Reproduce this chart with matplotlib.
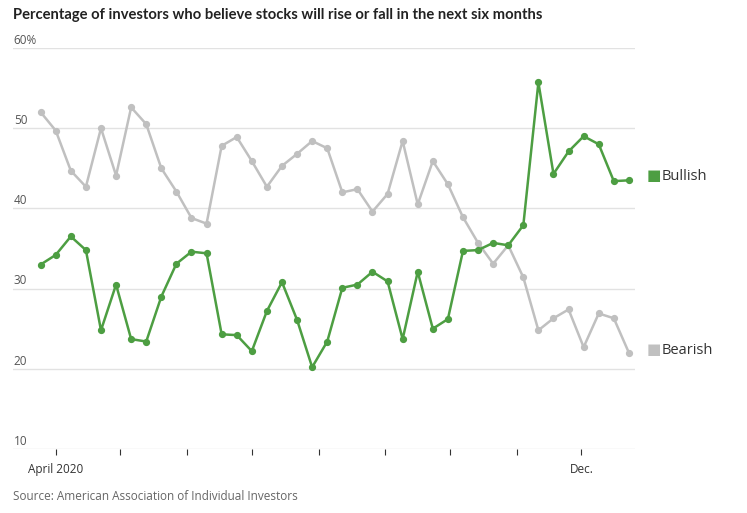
import matplotlib
matplotlib.use("Agg")
import matplotlib.pyplot as plt
import pandas as pd

# weekly AAII sentiment survey, Mar 25 - Dec 23 2020
dates = pd.date_range("2020-03-25", periods=40, freq="7D")

bullish = [33.0, 34.2, 36.5, 34.8, 24.8, 30.5, 23.7, 23.4, 29.0, 33.1,
           34.6, 34.4, 24.3, 24.2, 22.2, 27.2, 30.8, 26.1, 20.2, 23.4,
           30.1, 30.5, 32.1, 30.9, 23.7, 32.1, 25.0, 26.2, 34.7, 34.8,
           35.7, 35.4, 37.9, 55.7, 44.3, 47.1, 49.0, 48.0, 43.4, 43.5]

bearish = [52.0, 49.7, 44.7, 42.7, 50.0, 44.1, 52.6, 50.5, 45.0, 42.1,
           38.8, 38.1, 47.8, 48.9, 45.9, 42.7, 45.3, 46.8, 48.4, 47.5,
           42.0, 42.4, 39.6, 41.8, 48.4, 40.5, 45.9, 43.0, 38.9, 35.7,
           33.1, 35.4, 31.4, 24.8, 26.3, 27.4, 22.7, 26.9, 26.3, 22.0]

yticks = [10, 20, 30, 40, 50, 60]
ytick_labels = ["10", "20", "30", "40", "50", "60%"]

green = "#4d9e42"
grey = "#c0c0c0"
textcol = "#555555"

plt.rcParams["font.family"] = ["Open Sans", "DejaVu Sans"]

fig = plt.figure(figsize=(7.47, 5.13), dpi=100)
ax = fig.add_axes([13 / 747, 64 / 513, 622 / 747, 401 / 513])

ax.plot(dates, bearish, color=grey, lw=1.8, marker="o", ms=4.2, zorder=3)
ax.plot(dates, bullish, color=green, lw=1.8, marker="o", ms=4.2, zorder=4)

ax.set_ylim(10, 60)
ax.set_xlim(pd.Timestamp("2020-03-12 04:00"), pd.Timestamp("2020-12-25 20:00"))

# horizontal grid only, labels sit on top of the lines at the left
ax.set_yticks(yticks)
ax.set_yticklabels([])
ax.tick_params(axis="y", length=0)
for v, lab in zip(yticks, ytick_labels):
    ax.text(pd.Timestamp("2020-03-12 12:00"), v + 0.15, lab, fontsize=8.5,
            color=textcol, va="bottom", ha="left")
ax.grid(axis="y", color="#e2e2e2", lw=1)
ax.set_axisbelow(True)
for s in ax.spines.values():
    s.set_visible(False)

# monthly ticks, only first and last labelled
months = pd.date_range("2020-04-01", "2020-12-01", freq="MS")
ax.set_xticks(months)
ax.set_xticklabels(["April 2020"] + [""] * (len(months) - 2) + ["Dec."])
ax.tick_params(axis="x", length=4, width=0.8, color="#333333", pad=6,
               labelsize=8.5, labelcolor="#333333")

# end labels
fig.text(647 / 747, 1 - 176 / 513, "\u25A0", color=green, fontsize=11, va="center", ha="left")
fig.text(662 / 747, 1 - 176 / 513, "Bullish", color="#333333", fontsize=10.5, va="center")
fig.text(647 / 747, 1 - 350 / 513, "\u25A0", color=grey, fontsize=11, va="center", ha="left")
fig.text(662 / 747, 1 - 350 / 513, "Bearish", color="#333333", fontsize=10.5, va="center")

fig.text(13 / 747, 1 - 15 / 513, "Percentage of investors who believe stocks will rise or fall in the next six months",
         fontsize=10.65, fontweight="bold", color="#222222", va="center",
         family=["Lato", "DejaVu Sans"])
fig.text(13 / 747, 1 - 497 / 513, "Source: American Association of Individual Investors",
         fontsize=8.5, color="#666666", va="center")

fig.savefig("out.png", dpi=100)
